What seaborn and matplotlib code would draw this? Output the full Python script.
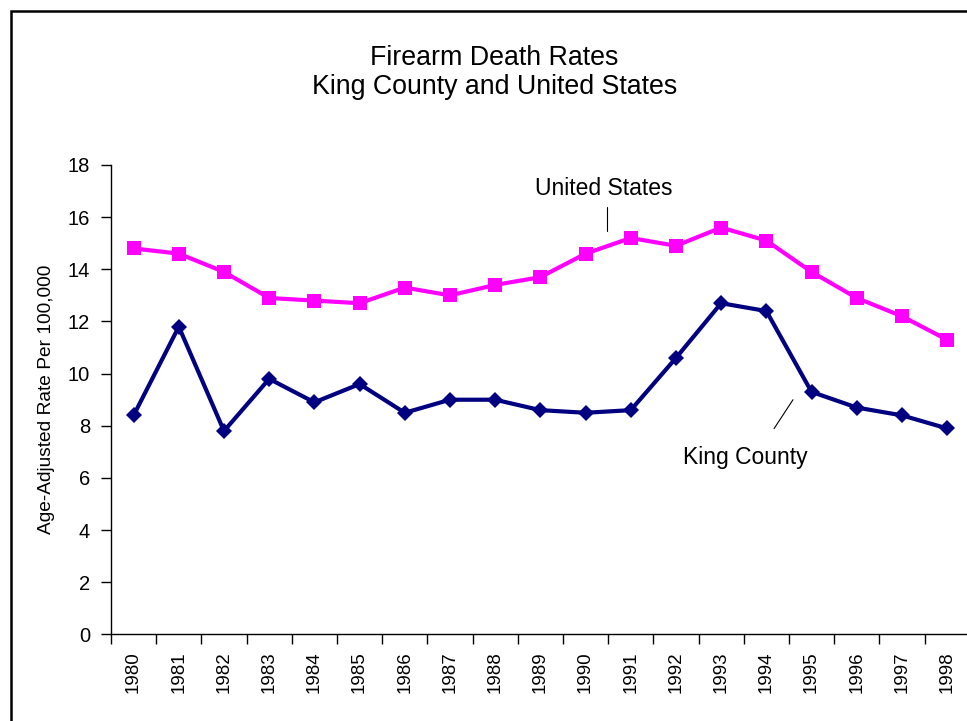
import matplotlib
matplotlib.use('Agg')
import matplotlib.pyplot as plt
import seaborn as sns
from matplotlib.patches import Rectangle
from matplotlib.lines import Line2D

# Data
years = ['1980', '1981', '1982', '1983', '1984', '1985', '1986', '1987', '1988', '1989',
         '1990', '1991', '1992', '1993', '1994', '1995', '1996', '1997', '1998']
us_rates = [14.8, 14.6, 13.9, 12.9, 12.8, 12.7, 13.3, 13.0, 13.4, 13.7,
            14.6, 15.2, 14.9, 15.6, 15.1, 13.9, 12.9, 12.2, 11.3]
king_rates = [8.4, 11.8, 7.8, 9.8, 8.9, 9.6, 8.5, 9.0, 9.0, 8.6,
              8.5, 8.6, 10.6, 12.7, 12.4, 9.3, 8.7, 8.4, 7.9]
y_ticks = [0, 2, 4, 6, 8, 10, 12, 14, 16, 18]

sns.set_theme(style='white')
plt.rcParams['font.family'] = ['Liberation Sans', 'DejaVu Sans']

fig = plt.figure(figsize=(9.67, 7.21), dpi=100)
ax = fig.add_axes([0.1148, 0.12, 0.888, 0.6512])

pos = list(range(len(years)))
sns.lineplot(x=pos, y=us_rates, ax=ax, color='#FF00FF', linewidth=3,
             marker='s', markersize=10.5, markeredgewidth=0, markerfacecolor='#FF00FF')
sns.lineplot(x=pos, y=king_rates, ax=ax, color='#000080', linewidth=3,
             marker='D', markersize=8.5, markeredgewidth=0, markerfacecolor='#000080')

ax.set_xlim(-0.5, len(years) - 0.5)
ax.set_ylim(0, 18)
ax.set_yticks(y_ticks)
ax.set_xticks(pos)
ax.set_xticklabels(years, rotation=90)
ax.set_xticks([p - 0.5 for p in pos] + [len(years) - 0.5], minor=True)
ax.tick_params(axis='x', which='major', length=0, pad=12, labelsize=13.5, colors='black')
ax.tick_params(axis='x', which='minor', length=7, width=1, color='black', direction='out', bottom=True)
ax.tick_params(axis='y', length=7, width=1, color='black', direction='out', left=True,
               pad=8, labelsize=14.5, labelcolor='black')
ax.set_ylabel('Age-Adjusted Rate Per 100,000', fontsize=13.8, color='black', labelpad=9)

for side in ['top', 'right']:
    ax.spines[side].set_visible(False)
for side in ['left', 'bottom']:
    ax.spines[side].set_color('black')
    ax.spines[side].set_linewidth(1)
ax.grid(False)

# series labels with leader lines
ax.text(10.41, 17.1, 'United States', ha='center', va='center', fontsize=16.5, color='black')
ax.add_line(Line2D([10.47, 10.47], [16.37, 15.48], color='black', linewidth=0.8))
ax.text(13.54, 6.77, 'King County', ha='center', va='center', fontsize=16.5, color='black')
ax.add_line(Line2D([14.17, 14.59], [7.89, 9.0], color='black', linewidth=0.8))

fig.text(0.511, 1 - 72.5 / 721, 'Firearm Death Rates\nKing County and United States',
         ha='center', va='center', fontsize=19.3, linespacing=1.13, color='black')

# outer chart frame
fig.patches.append(Rectangle((0.0114, -0.05), 1.1, 1.05 - 11 / 721, transform=fig.transFigure,
                             fill=False, edgecolor='black', linewidth=1.8))

fig.savefig('out.png', dpi=100)
